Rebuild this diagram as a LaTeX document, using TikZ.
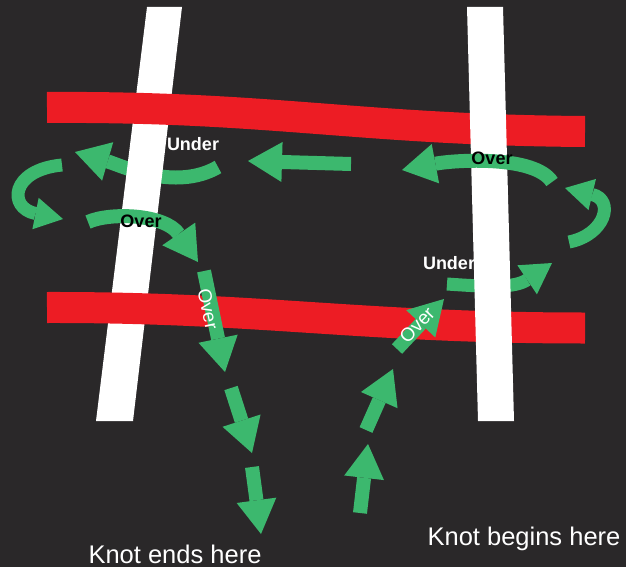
\documentclass[tikz,border=0pt]{standalone}
\usepackage{fontspec}
\setmainfont{Liberation Sans}
\usetikzlibrary{arrows.meta}
\definecolor{achtergrond}{RGB}{42,40,41}
\definecolor{knoopgroen}{RGB}{60,184,110}
\definecolor{touwrood}{RGB}{237,28,36}
\tikzset{
  pijl/.style={draw=knoopgroen, line width=14pt, -{Triangle[width=40pt,length=34pt,line width=0pt]}},
  kleinepijl/.style={draw=knoopgroen, line width=13pt, -{Triangle[width=32pt,length=28pt,line width=0pt]}},
  touw/.style={draw=touwrood, line width=31pt},
  opschrift/.style={anchor=base, inner sep=0pt, font=\bfseries\fontsize{18}{18}\selectfont},
  draaitekst/.style={white, inner sep=0pt, font=\fontsize{19}{19}\selectfont},
  onderschrift/.style={white, anchor=base, inner sep=0pt, font=\fontsize{25.5}{30}\selectfont}
}
\begin{document}
\begin{tikzpicture}[x=1pt,y=-1pt]
\fill[achtergrond] (0,0) rectangle (626,567);
\useasboundingbox (0,0) rectangle (626,567);

% Under-pijl linksboven, loopt onder de paal door
\draw[pijl] (218,167) .. controls (175,192) and (120,165) .. (75,152);
\node[opschrift, white] (onderlinks) at (193,150) {Under};

% Linker paal
\fill[white] (147,7) -- (182,7) -- (133,421) -- (96,421) -- cycle;

% Rode touwen
\draw[touw] (47,107.5) .. controls (270,106) and (360,130) .. (585,131.5);
\draw[touw] (47,307.5) .. controls (260,307) and (360,328) .. (585,328);

% Under-pijl rechtsonder
\draw[kleinepijl, -{Triangle[width=35pt,length=30pt,line width=0pt]}] (447,284) .. controls (490,287) and (515,288) .. (552,263);
\node[opschrift, white] (onderrechts) at (449,269) {Under};

% Rechter paal
\fill[white] (467,7) -- (503,7) -- (514,421) -- (478,421) -- cycle;

% Pijlen bovenaan
\draw[pijl] (351,164) -- (248,161);
\draw[pijl] (552,182) .. controls (535,155) and (455,160) .. (402,170);
\node[opschrift] (overrechts) at (492,164) {Over};

% Lussen
\draw[kleinepijl] (569,242) .. controls (605,235) and (615,200) .. (565,188);
\draw[kleinepijl] (62,165) .. controls (10,170) and (8,208) .. (63,219);

% Over-pijl links
\draw[pijl] (88,222) .. controls (110,212) and (165,214) .. (198,262);
\node[opschrift] (overlinks) at (141,227) {Over};

% Naar het einde
\draw[pijl] (204,271) -- (225,372);
\node[draaitekst, rotate=-78] (overneer) at (208,309) {Over};
\draw[pijl] (231,388) -- (252,453);
\draw[pijl] (252,467) -- (261,534);

% Vanaf het begin
\draw[pijl] (360,513) -- (368,444);
\draw[pijl] (366,430) -- (393,369);
\draw[pijl] (397,349) -- (444,299);
\node[draaitekst, rotate=47] (overop) at (417,325) {Over};

% Tekst onderaan
\node[onderschrift] (einde) at (175,563) {Knot ends here};
\node[onderschrift] (begin) at (524,545) {Knot begins here};
\end{tikzpicture}
\end{document}
